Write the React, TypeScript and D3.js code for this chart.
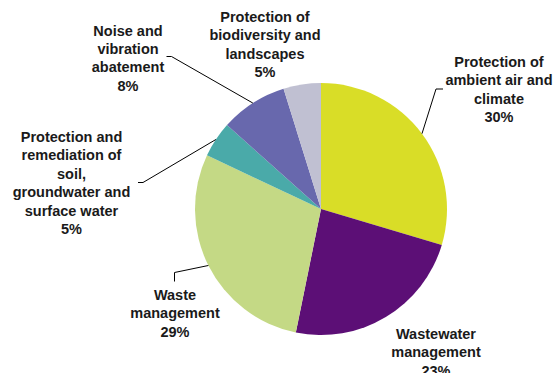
import React from "react";
import * as d3 from "d3";

const categories = [
  "Protection of ambient air and climate",
  "Wastewater management",
  "Waste management",
  "Protection and remediation of soil, groundwater and surface water",
  "Noise and vibration abatement",
  "Protection of biodiversity and landscapes",
];
const values = [29.6, 23.6, 28.8, 4.6, 8.6, 4.8];
const labelLines = [
  ["Protection of", "ambient air and", "climate", "30%"],
  ["Wastewater", "management", "23%"],
  ["Waste", "management", "29%"],
  ["Protection and", "remediation of", "soil,", "groundwater and", "surface water", "5%"],
  ["Noise and", "vibration", "abatement", "8%"],
  ["Protection of", "biodiversity and", "landscapes", "5%"],
];
const colors = ["#d9dd27", "#5c0f76", "#c4d985", "#4aaaa9", "#6868ad", "#c0c0d2"];

// layout: label center x, first-line baseline y, elbow points for leaders
const labelLayout = [
  { x: 499, y: 67, elbow: [[443, 89], [436, 89]] },
  { x: 436, y: 339, elbow: null },
  { x: 175, y: 300, elbow: [[174.5, 281.5], [174.5, 272.5]] },
  { x: 71.5, y: 142, elbow: [[138, 182.5], [143, 182.5]] },
  { x: 128, y: 35.5, elbow: [[166.5, 56.5], [171.5, 56.5]] },
  { x: 265, y: 22, elbow: null },
];

const W = 554;
const H = 373;
const cx = 321;
const cy = 209;
const R = 126;
const lineH = 18.4;

export default function App() {
  const pie = d3
    .pie<number>()
    .sort(null)
    .value((d) => d)
    .startAngle(0)
    .endAngle(2 * Math.PI);
  const arcs = pie(values);
  const arc = d3.arc<d3.PieArcDatum<number>>().innerRadius(0).outerRadius(R);
  const line = d3.line();

  return (
    <svg
      width={W}
      height={H}
      style={{ position: "absolute", left: 0, top: 0, background: "#fff" }}
      fontFamily="'Liberation Sans', Arial, sans-serif"
    >
      <g transform={`translate(${cx},${cy})`}>
        {arcs.map((a, i) => (
          <path key={i} d={arc(a) || ""} fill={colors[i]} />
        ))}
      </g>
      {arcs.map((a, i) => {
        const lay = labelLayout[i];
        if (!lay.elbow) return null;
        const mid = (a.startAngle + a.endAngle) / 2;
        const px = cx + R * Math.sin(mid);
        const py = cy - R * Math.cos(mid);
        const pts: [number, number][] = [
          ...(lay.elbow as [number, number][]),
          [px, py],
        ];
        return (
          <path key={"l" + i} d={line(pts) || ""} fill="none" stroke="#000" strokeWidth={1} />
        );
      })}
      {labelLines.map((lines, i) => {
        const lay = labelLayout[i];
        return (
          <text
            key={"t" + i}
            x={lay.x}
            y={lay.y}
            textAnchor="middle"
            fontWeight="bold"
            fontSize={14.5}
            fill="#1a1a1a"
          >
            {lines.map((s, j) => (
              <tspan key={j} x={lay.x} y={lay.y + j * lineH}>
                {s}
              </tspan>
            ))}
          </text>
        );
      })}
    </svg>
  );
}
